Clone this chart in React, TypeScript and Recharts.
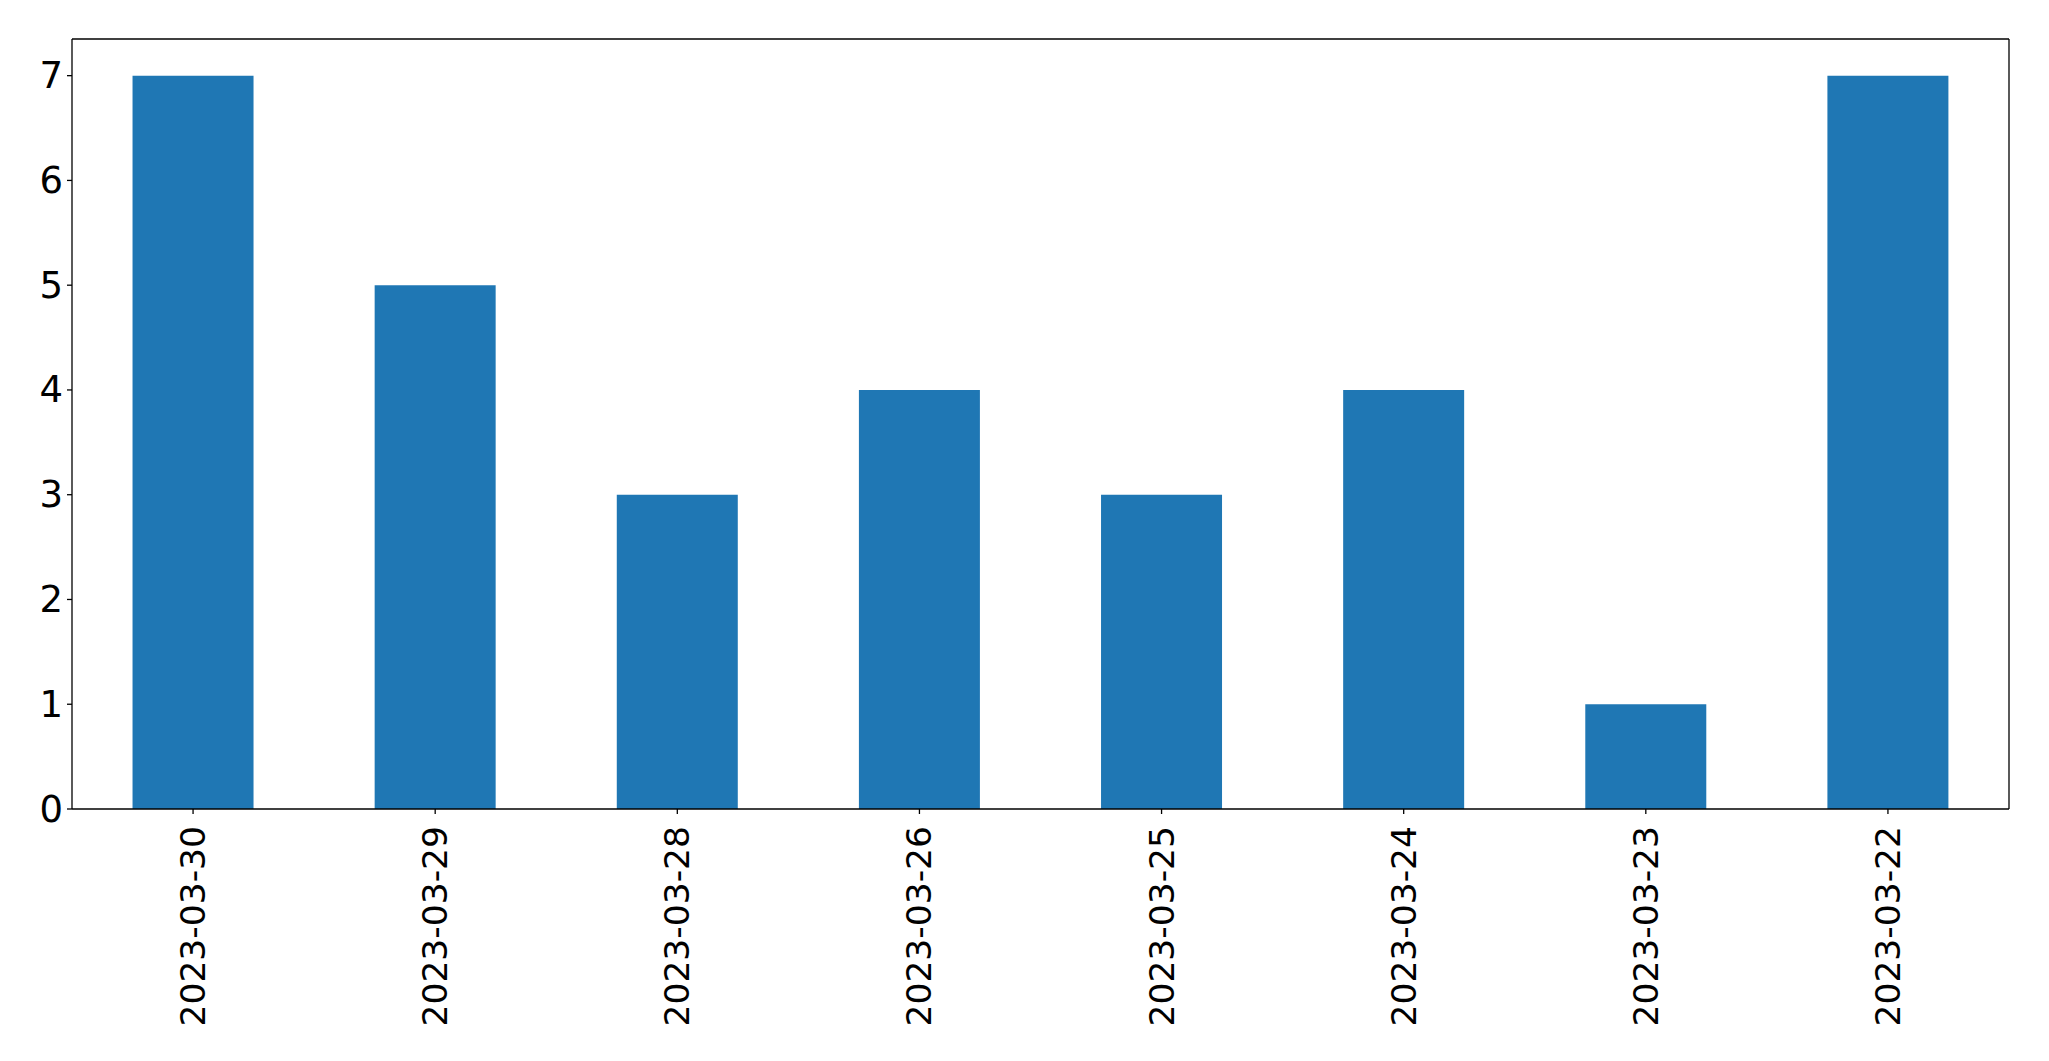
import React from 'react';
import { BarChart, Bar, XAxis, YAxis } from 'recharts';

const categories = ['2023-03-30', '2023-03-29', '2023-03-28', '2023-03-26', '2023-03-25', '2023-03-24', '2023-03-23', '2023-03-22'];
const counts = [7, 5, 3, 4, 3, 4, 1, 7];
const yTicks = [0, 1, 2, 3, 4, 5, 6, 7];

const data = categories.map((c, i) => ({ date: c, count: counts[i] }));

const FONT = 'DejaVu Sans';

const XTick = (props: any) => {
  const { x, y, payload } = props;
  return (
    <text
      transform={`translate(${x},${y + 10}) rotate(-90)`}
      textAnchor="end"
      dominantBaseline="central"
      fontFamily={FONT}
      fontSize={34.5}
      fill="#000"
    >
      {payload.value}
    </text>
  );
};

const YTick = (props: any) => {
  const { x, y, payload } = props;
  return (
    <text x={x} y={y} textAnchor="end" dominantBaseline="central" fontFamily={FONT} fontSize={37} fill="#000">
      {payload.value}
    </text>
  );
};

export default function App() {
  return (
    <div style={{ position: 'absolute', left: 0, top: 0, background: '#fff' }}>
      <BarChart
        width={2049}
        height={1061}
        data={data}
        margin={{ top: 38, right: 39, left: 0, bottom: 0 }}
        barCategoryGap="25%"
      >
        <XAxis
          dataKey="date"
          interval={0}
          height={252}
          tick={<XTick />}
          tickSize={5}
          axisLine={{ stroke: '#000', strokeWidth: 1.3 }}
          tickLine={{ stroke: '#000', strokeWidth: 1.3 }}
        />
        <XAxis
          xAxisId="top"
          orientation="top"
          type="number"
          domain={[0, 1]}
          height={1}
          tick={false}
          tickLine={false}
          axisLine={{ stroke: '#000', strokeWidth: 1.3 }}
        />
        <YAxis
          domain={[0, 7.35]}
          ticks={yTicks}
          width={72}
          tick={<YTick />}
          tickSize={5}
          tickMargin={4}
          allowDataOverflow
          axisLine={{ stroke: '#000', strokeWidth: 1.3 }}
          tickLine={{ stroke: '#000', strokeWidth: 1.3 }}
        />
        <YAxis
          yAxisId="right"
          orientation="right"
          type="number"
          domain={[0, 1]}
          width={1}
          tick={false}
          tickLine={false}
          axisLine={{ stroke: '#000', strokeWidth: 1.3 }}
        />
        <Bar dataKey="count" fill="#1f77b4" isAnimationActive={false} />
      </BarChart>
    </div>
  );
}
